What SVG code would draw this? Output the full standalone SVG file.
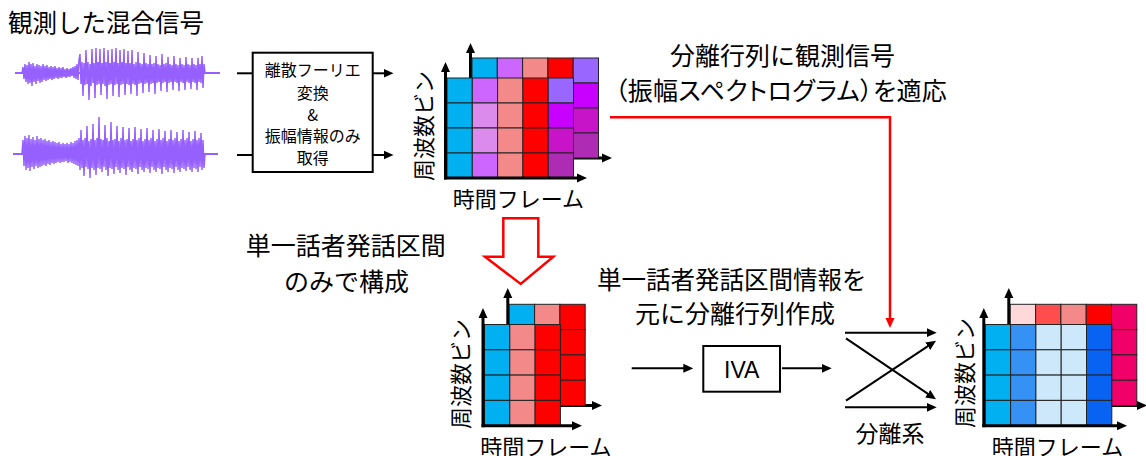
<svg xmlns="http://www.w3.org/2000/svg" width="1146" height="456" viewBox="0 0 1146 456">
<style>
.t{font-family:"Noto Sans CJK JP","Noto Sans",sans-serif;fill:#000}
.lat{font-family:"Liberation Sans",Arial,sans-serif;fill:#000}
.ax{stroke:#000;stroke-width:3;fill:none;marker-end:url(#ah)}
.cn{stroke:#000;stroke-width:2;fill:none}
.ca{stroke:#000;stroke-width:2;fill:none;marker-end:url(#ah)}
.grid rect{stroke:#222;stroke-width:1}
.wave{fill:none;stroke:#9660FF;stroke-width:1.5;stroke-linejoin:miter}
.base{stroke:#9660FF;stroke-width:2}
</style>
<defs>
<marker id="ah" viewBox="0 0 10 10" markerWidth="10" markerHeight="10" refX="3" refY="5" orient="auto" markerUnits="userSpaceOnUse">
<path d="M0,0.5 L10,5 L0,9.5 z" fill="#000"/>
</marker>
<marker id="ahr" viewBox="0 0 10 10" markerWidth="10" markerHeight="10" refX="3" refY="5" orient="auto" markerUnits="userSpaceOnUse">
<path d="M0,0.5 L10,5 L0,9.5 z" fill="#FF0000"/>
</marker>
</defs>
<rect width="1146" height="456" fill="#fff"/>

<g id="title">
<text class="t" x="8" y="32" font-size="24.5">観測した混合信号</text>
</g>

<g id="wave1">
<line class="base" x1="15" y1="73" x2="220" y2="73"/>
<polyline class="wave" points="22,73 23,67 24,79 25,64 26,82 27,65 28,84 29,62 30,83 31,64 32,86 33,63 34,82 35,66 36,84 37,64 38,81 39,65 40,83 41,66 42,82 43,64 44,80 45,66 46,81 47,65 48,80 49,67 50,79 51,66 52,80 53,67 54,79 55,66 56,78 57,68 58,79 59,67 60,78 61,68 62,78 63,67 64,77 65,69 66,78 67,68 68,77 69,69 70,77 71,68 72,76 73,67 74,78 75,66 76,79 77,64 78,80 79,60 80,54 81,84 82,62 83,96 84,63 85,85 86,50 87,84 88,62 89,100 90,64 91,86 92,49 93,83 94,63 95,98 96,48 97,85 98,62 99,84 100,49 101,95 102,63 103,84 104,48 105,86 106,62 107,99 108,50 109,85 110,63 111,84 112,49 113,96 114,62 115,85 116,48 117,84 118,63 119,97 120,50 121,85 122,62 123,84 124,49 125,95 126,63 127,84 128,51 129,85 130,63 131,94 132,50 133,84 134,64 135,85 136,62 137,96 138,52 139,84 140,63 141,83 142,64 143,93 144,53 145,84 146,63 147,83 148,64 149,92 150,55 151,84 152,64 153,83 154,63 155,94 156,56 157,83 158,64 159,82 160,65 161,91 162,54 163,83 164,64 165,82 166,63 167,92 168,57 169,83 170,64 171,82 172,65 173,90 174,56 175,82 176,64 177,83 178,65 179,91 180,58 181,82 182,64 183,83 184,65 185,90 186,57 187,82 188,64 189,83 190,65 191,89 192,58 193,82 194,64 195,83 196,65 197,90 198,58 199,82 200,64 201,83 202,56 203,88 204,64 205,73"/>
</g>

<g id="wave2">
<line class="base" x1="13" y1="154" x2="218" y2="154"/>
<polyline class="wave" points="22,154 23,140 24,166 25,136 26,170 27,138 28,168 29,135 30,171 31,139 32,167 33,137 34,169 35,140 36,166 37,136 38,168 39,139 40,167 41,138 42,166 43,140 44,165 45,139 46,166 47,141 48,164 49,140 50,165 51,142 52,163 53,141 54,164 55,142 56,163 57,143 58,162 59,142 60,163 61,144 62,162 63,143 64,162 65,144 66,161 67,143 68,163 69,144 70,162 71,142 72,163 73,143 74,164 75,141 76,165 77,140 78,166 79,138 80,170 81,130 82,168 83,140 84,176 85,138 86,167 87,126 88,169 89,141 90,178 91,139 92,168 93,124 94,170 95,140 96,175 97,138 98,168 99,117 100,169 101,139 102,172 103,140 104,167 105,125 106,170 107,138 108,176 109,141 110,168 111,122 112,169 113,140 114,174 115,139 116,167 117,126 118,170 119,141 120,173 121,138 122,168 123,127 124,169 125,140 126,175 127,139 128,167 129,128 130,170 131,141 132,172 133,139 134,168 135,127 136,169 137,140 138,174 139,138 140,167 141,129 142,170 143,141 144,172 145,139 146,168 147,128 148,169 149,140 150,173 151,138 152,167 153,130 154,170 155,141 156,172 157,139 158,168 159,129 160,169 161,140 162,174 163,138 164,167 165,131 166,170 167,141 168,172 169,139 170,168 171,130 172,169 173,140 174,173 175,138 176,167 177,132 178,170 179,141 180,172 181,139 182,168 183,130 184,169 185,140 186,171 187,138 188,167 189,132 190,170 191,141 192,172 193,139 194,168 195,131 196,169 197,140 198,172 199,138 200,167 201,133 202,170 203,140 204,168 205,154"/>
</g>

<g id="dft-box">
<rect x="252.7" y="52.7" width="120" height="119.3" fill="#fff" stroke="#000" stroke-width="2"/>
<g class="t" font-size="16" text-anchor="middle">
<text x="312.7" y="76">離散フーリエ</text>
<text x="312.7" y="98.5">変換</text>
<text x="312.7" y="120.5">&amp;</text>
<text x="312.7" y="142">振幅情報のみ</text>
<text x="312.7" y="164">取得</text>
</g>
</g>

<g id="spec-mixed">
<line class="ax" x1="470.5" y1="159" x2="470.5" y2="50"/>
<line class="ax" x1="469" y1="158" x2="605" y2="158"/>
<g class="grid">
<rect x="472" y="58" width="25.3" height="25" fill="#00B0F0"/>
<rect x="497.3" y="58" width="25.3" height="25" fill="#CC66FF"/>
<rect x="522.6" y="58" width="25.3" height="25" fill="#F38989"/>
<rect x="547.9" y="58" width="25.3" height="25" fill="#FF0000"/>
<rect x="573.2" y="58" width="25.3" height="25" fill="#9966FF"/>
<rect x="573.2" y="83" width="25.3" height="25" fill="#C800FF"/>
<rect x="573.2" y="108" width="25.3" height="25" fill="#C814C8"/>
<rect x="573.2" y="133" width="25.3" height="25" fill="#AE2CB4"/>

<rect x="447" y="78" width="25.3" height="25" fill="#00B0F0"/>
<rect x="472.3" y="78" width="25.3" height="25" fill="#CC66FF"/>
<rect x="497.6" y="78" width="25.3" height="25" fill="#F38989"/>
<rect x="522.9" y="78" width="25.3" height="25" fill="#FF0000"/>
<rect x="548.2" y="78" width="25.3" height="25" fill="#9966FF"/>
<rect x="447" y="103" width="25.3" height="25" fill="#00B0F0"/>
<rect x="472.3" y="103" width="25.3" height="25" fill="#DA8BEC"/>
<rect x="497.6" y="103" width="25.3" height="25" fill="#F38989"/>
<rect x="522.9" y="103" width="25.3" height="25" fill="#FF0000"/>
<rect x="548.2" y="103" width="25.3" height="25" fill="#C800FF"/>
<rect x="447" y="128" width="25.3" height="25" fill="#00B0F0"/>
<rect x="472.3" y="128" width="25.3" height="25" fill="#DA8BEC"/>
<rect x="497.6" y="128" width="25.3" height="25" fill="#F38989"/>
<rect x="522.9" y="128" width="25.3" height="25" fill="#FF0000"/>
<rect x="548.2" y="128" width="25.3" height="25" fill="#C814C8"/>
<rect x="447" y="153" width="25.3" height="25" fill="#00B0F0"/>
<rect x="472.3" y="153" width="25.3" height="25" fill="#CC66FF"/>
<rect x="497.6" y="153" width="25.3" height="25" fill="#F38989"/>
<rect x="522.9" y="153" width="25.3" height="25" fill="#FF0000"/>
<rect x="548.2" y="153" width="25.3" height="25" fill="#AE2CB4"/>
</g>
<line class="ax" x1="445.5" y1="179.5" x2="445.5" y2="69"/>
<line class="ax" x1="444" y1="178" x2="580" y2="178"/>
<text class="t" font-size="22" text-anchor="middle" transform="translate(431.5,126) rotate(-90)">周波数ビン</text>
<text class="t" x="518.3" y="207" font-size="22" text-anchor="middle">時間フレーム</text>
</g>

<g id="label-apply">
<text class="t" x="782.5" y="65" font-size="25" text-anchor="middle">分離行列に観測信号</text>
<text class="t" x="780.8" y="100" font-size="25" text-anchor="middle" style="font-feature-settings:'palt'" textLength="332" lengthAdjust="spacing">（振幅スペクトログラム）を適応</text>
</g>

<g id="hollow-arrow">
<polygon points="503.3,218.3 538.3,218.3 538.3,256.7 553.3,256.7 520.7,284 485,256.7 503.3,256.7" fill="#fff" stroke="#FF0000" stroke-width="2.5"/>
</g>

<g id="label-single">
<text class="t" x="345.8" y="254.5" font-size="25" text-anchor="middle">単一話者発話区間</text>
<text class="t" x="346.5" y="291" font-size="25" text-anchor="middle">のみで構成</text>
</g>

<g id="spec-single">
<line class="ax" x1="507.8" y1="406.5" x2="507.8" y2="295"/>
<line class="ax" x1="506.3" y1="405.5" x2="595" y2="405.5"/>
<g class="grid">
<rect x="509.3" y="304.3" width="25.3" height="25.3" fill="#00B0F0"/>
<rect x="534.6" y="304.3" width="25.3" height="25.3" fill="#F38989"/>
<rect x="559.9" y="304.3" width="25.3" height="25.3" fill="#FF0000"/>
<rect x="559.9" y="329.6" width="25.3" height="25.3" fill="#FF0000"/>
<rect x="559.9" y="354.9" width="25.3" height="25.3" fill="#FF0000"/>
<rect x="559.9" y="380.2" width="25.3" height="25.3" fill="#FF0000"/>

<rect x="484.5" y="324.5" width="25.3" height="25.3" fill="#00B0F0"/>
<rect x="509.8" y="324.5" width="25.3" height="25.3" fill="#F38989"/>
<rect x="535.1" y="324.5" width="25.3" height="25.3" fill="#FF0000"/>
<rect x="484.5" y="349.8" width="25.3" height="25.3" fill="#00B0F0"/>
<rect x="509.8" y="349.8" width="25.3" height="25.3" fill="#F38989"/>
<rect x="535.1" y="349.8" width="25.3" height="25.3" fill="#FF0000"/>
<rect x="484.5" y="375.1" width="25.3" height="25.3" fill="#00B0F0"/>
<rect x="509.8" y="375.1" width="25.3" height="25.3" fill="#F38989"/>
<rect x="535.1" y="375.1" width="25.3" height="25.3" fill="#FF0000"/>
<rect x="484.5" y="400.4" width="25.3" height="25.3" fill="#00B0F0"/>
<rect x="509.8" y="400.4" width="25.3" height="25.3" fill="#F38989"/>
<rect x="535.1" y="400.4" width="25.3" height="25.3" fill="#FF0000"/>
</g>
<line class="ax" x1="483" y1="427.2" x2="483" y2="315"/>
<line class="ax" x1="481.5" y1="425.7" x2="575" y2="425.7"/>
<text class="t" font-size="22" text-anchor="middle" transform="translate(469,374) rotate(-90)">周波数ビン</text>
<text class="t" x="545.8" y="454.5" font-size="22" text-anchor="middle">時間フレーム</text>
</g>

<g id="label-create">
<text class="t" x="731.7" y="289" font-size="24.5" text-anchor="middle">単一話者発話区間情報を</text>
<text class="t" x="735" y="323" font-size="25" text-anchor="middle">元に分離行列作成</text>
</g>

<g id="iva">
<rect x="703.3" y="346" width="76.7" height="45.7" fill="#fff" stroke="#000" stroke-width="2"/>
<text class="lat" x="741.7" y="378" font-size="23" text-anchor="middle">IVA</text>
</g>

<g id="separation">
<line class="ca" x1="845" y1="332.7" x2="929.7" y2="332.7"/>
<line class="ca" x1="846" y1="338.3" x2="930.2" y2="395.4"/>
<line class="ca" x1="846" y1="400.7" x2="930.2" y2="344.6"/>
<line class="ca" x1="845" y1="407.3" x2="929.7" y2="407.3"/>
<text class="t" x="890" y="441.5" font-size="23" text-anchor="middle">分離系</text>
</g>

<g id="spec-separated">
<line class="ax" x1="1008.8" y1="406.5" x2="1008.8" y2="295"/>
<line class="ax" x1="1007.3" y1="405.5" x2="1140" y2="405.5"/>
<g class="grid">
<rect x="1010.3" y="304.3" width="25.3" height="25.3" fill="#FFD9D9"/>
<rect x="1035.6" y="304.3" width="25.3" height="25.3" fill="#FF4D4D"/>
<rect x="1060.9" y="304.3" width="25.3" height="25.3" fill="#F38989"/>
<rect x="1086.2" y="304.3" width="25.3" height="25.3" fill="#FF0000"/>
<rect x="1111.5" y="304.3" width="25.3" height="25.3" fill="#F00068"/>
<rect x="1111.5" y="329.6" width="25.3" height="25.3" fill="#F00068"/>
<rect x="1111.5" y="354.9" width="25.3" height="25.3" fill="#F00068"/>
<rect x="1111.5" y="380.2" width="25.3" height="25.3" fill="#F00068"/>

<rect x="985.3" y="324.5" width="25.3" height="25.3" fill="#00B0F0"/>
<rect x="1010.6" y="324.5" width="25.3" height="25.3" fill="#3592F4"/>
<rect x="1035.9" y="324.5" width="25.3" height="25.3" fill="#CCE8FA"/>
<rect x="1061.2" y="324.5" width="25.3" height="25.3" fill="#CCE8FA"/>
<rect x="1086.5" y="324.5" width="25.3" height="25.3" fill="#0863F2"/>
<rect x="985.3" y="349.8" width="25.3" height="25.3" fill="#00B0F0"/>
<rect x="1010.6" y="349.8" width="25.3" height="25.3" fill="#3592F4"/>
<rect x="1035.9" y="349.8" width="25.3" height="25.3" fill="#CCE8FA"/>
<rect x="1061.2" y="349.8" width="25.3" height="25.3" fill="#CCE8FA"/>
<rect x="1086.5" y="349.8" width="25.3" height="25.3" fill="#0863F2"/>
<rect x="985.3" y="375.1" width="25.3" height="25.3" fill="#00B0F0"/>
<rect x="1010.6" y="375.1" width="25.3" height="25.3" fill="#3592F4"/>
<rect x="1035.9" y="375.1" width="25.3" height="25.3" fill="#CCE8FA"/>
<rect x="1061.2" y="375.1" width="25.3" height="25.3" fill="#CCE8FA"/>
<rect x="1086.5" y="375.1" width="25.3" height="25.3" fill="#0863F2"/>
<rect x="985.3" y="400.4" width="25.3" height="25.3" fill="#00B0F0"/>
<rect x="1010.6" y="400.4" width="25.3" height="25.3" fill="#3592F4"/>
<rect x="1035.9" y="400.4" width="25.3" height="25.3" fill="#CCE8FA"/>
<rect x="1061.2" y="400.4" width="25.3" height="25.3" fill="#CCE8FA"/>
<rect x="1086.5" y="400.4" width="25.3" height="25.3" fill="#0863F2"/>
</g>
<line class="ax" x1="983.8" y1="427.2" x2="983.8" y2="315"/>
<line class="ax" x1="982.3" y1="425.7" x2="1120" y2="425.7"/>
<text class="t" font-size="22" text-anchor="middle" transform="translate(972.5,373) rotate(-90)">周波数ビン</text>
<text class="t" x="1057.5" y="454.5" font-size="22" text-anchor="middle">時間フレーム</text>
</g>

<g id="connectors">
<line class="cn" x1="237" y1="73.3" x2="252.7" y2="73.3"/>
<line class="cn" x1="237" y1="155" x2="252.7" y2="155"/>
<line class="ca" x1="372.7" y1="73.3" x2="386.5" y2="73.3"/>
<line class="ca" x1="372.7" y1="155" x2="386.5" y2="155"/>
<line class="ca" x1="631.7" y1="368.3" x2="686.3" y2="368.3"/>
<line class="ca" x1="782" y1="368.3" x2="824.7" y2="368.3"/>
<polyline points="610,117.3 890,117.3 890,321" fill="none" stroke="#FF0000" stroke-width="2.5" marker-end="url(#ahr)"/>
</g>
</svg>
